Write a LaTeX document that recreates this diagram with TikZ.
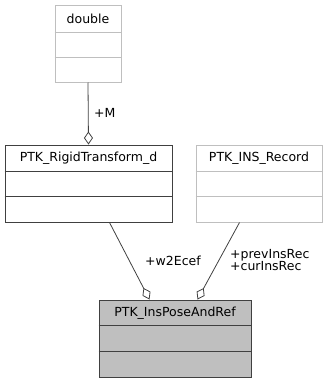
\documentclass[tikz,border=0pt]{standalone}
\usepackage{fontspec}
\setmainfont{DejaVu Sans}
\usetikzlibrary{arrows.meta,calc}
\definecolor{edgegray}{HTML}{404040}
\definecolor{lightgray}{HTML}{BFBFBF}
\tikzset{
  cls/.style={draw=edgegray, line width=1pt, fill=white, inner sep=0pt},
  clsfaint/.style={cls, draw=lightgray},
  clsfocus/.style={cls, fill=lightgray},
  title/.style={inner sep=0pt, font=\fontsize{12.5}{14}\selectfont, text=black},
  lbl/.style={inner sep=0pt, font=\fontsize{12.5}{14}\selectfont, text=black, align=left},
  agg/.style={draw=edgegray, line width=0.8pt,
    -{Diamond[open, length=13pt, width=9pt, line width=0.8pt]}},
}
\begin{document}
\begin{tikzpicture}[x=1pt, y=-1pt]
  \useasboundingbox (0,0) rectangle (330,383);

  % class double
  \node[clsfaint, minimum width=66, minimum height=77] (dbl) at (88,43.5) {};
  \node[title] (dblt) at (88,18.5) {double};
  \draw[lightgray, line width=1pt] (dbl.west |- 0,32) -- (dbl.east |- 0,32)
                                   (dbl.west |- 0,57) -- (dbl.east |- 0,57);

  % class PTK_RigidTransform_d
  \node[cls, minimum width=167, minimum height=77] (rt) at (88.5,183.5) {};
  \node[title] (rtt) at (88.5,158) {PTK\_RigidTransform\_d};
  \draw[edgegray, line width=1pt] (rt.west |- 0,171) -- (rt.east |- 0,171)
                                  (rt.west |- 0,196) -- (rt.east |- 0,196);

  % class PTK_INS_Record
  \node[clsfaint, minimum width=126, minimum height=77] (ins) at (259,183.5) {};
  \node[title] (inst) at (259,158) {PTK\_INS\_Record};
  \draw[lightgray, line width=1pt] (ins.west |- 0,171) -- (ins.east |- 0,171)
                                   (ins.west |- 0,196) -- (ins.east |- 0,196);

  % class PTK_InsPoseAndRef
  \node[clsfocus, minimum width=152, minimum height=77] (ipr) at (175,338.5) {};
  \node[title] (iprt) at (175,313) {PTK\_InsPoseAndRef};
  \draw[edgegray, line width=1pt] (ipr.west |- 0,325) -- (ipr.east |- 0,325)
                                  (ipr.west |- 0,351) -- (ipr.east |- 0,351);

  % aggregations
  \draw[agg] (dbl.south) -- (rt.north);
  \node[lbl, anchor=west] (lm) at (94,113) {+M};

  \draw[agg] ($(rt.south west)+(105,0)$) -- ($(ipr.north west)+(51,0)$);
  \node[lbl, anchor=west] (lw) at (145,261) {+w2Ecef};

  \draw[agg] ($(ins.south west)+(44,0)$) -- ($(ipr.north west)+(99,0)$);
  \node[lbl, anchor=west] (lr) at (230,260)
    {+prevInsRec\\[-1.5pt]+curInsRec};
\end{tikzpicture}
\end{document}
